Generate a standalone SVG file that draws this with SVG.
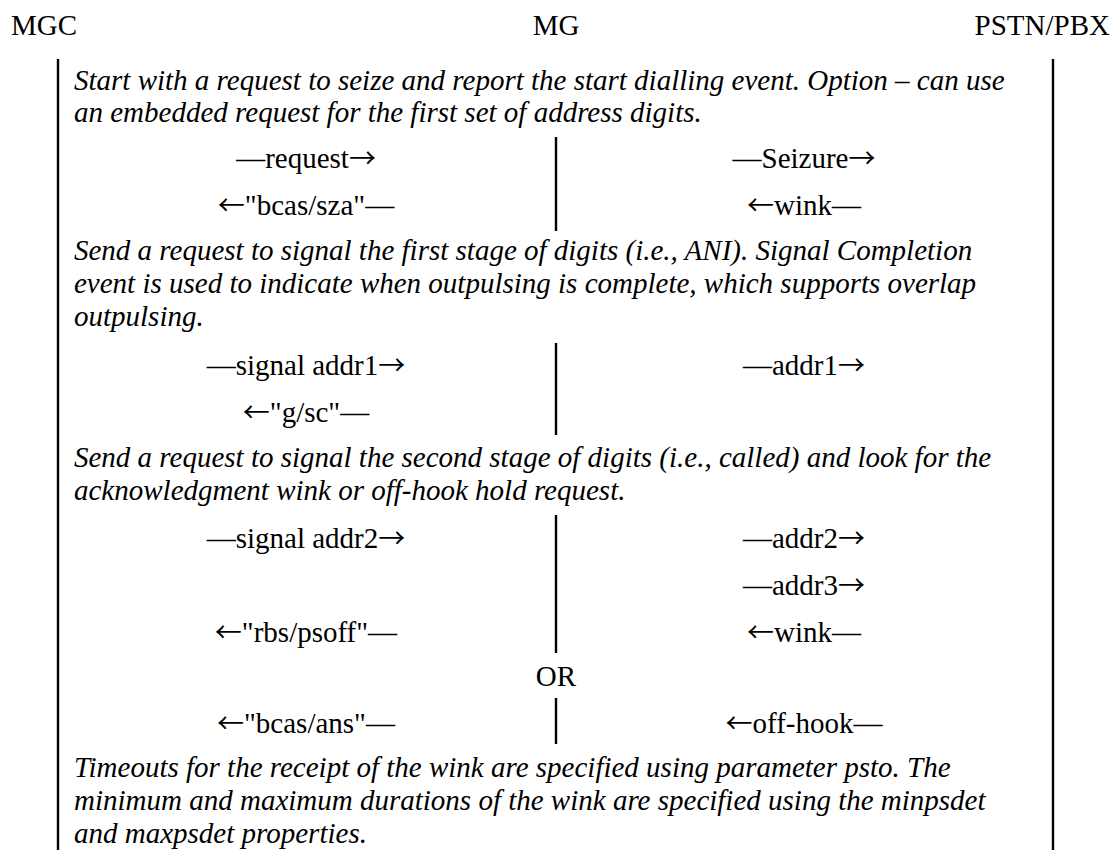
<svg xmlns="http://www.w3.org/2000/svg" width="1118" height="850" viewBox="0 0 1118 850">
<style>
text{font-family:"Liberation Serif","Times New Roman",serif;font-size:29px;fill:#000}
.note{font-style:italic}
.l{text-anchor:middle}
.a{font-family:"Noto Sans CJK JP","DejaVu Serif",sans-serif;font-size:27px}
.life{stroke:#000;stroke-width:2.4;fill:none}
</style>
<rect width="1118" height="850" fill="#fff"/>
<g id="connectors">
<line class="life" x1="58" y1="59" x2="58" y2="850"/>
<line class="life" x1="1053" y1="59" x2="1053" y2="850"/>
<line class="life" x1="556" y1="137" x2="556" y2="231"/>
<line class="life" x1="556" y1="343" x2="556" y2="435"/>
<line class="life" x1="556" y1="515" x2="556" y2="653"/>
<line class="life" x1="556" y1="698" x2="556" y2="744"/>
</g>
<g id="mgc"><text x="11" y="35">MGC</text></g>
<g id="mg"><text x="556" y="35" class="l">MG</text></g>
<g id="pstn"><text x="1110" y="35" text-anchor="end">PSTN/PBX</text></g>
<g id="note1">
<text class="note" x="74" y="90">Start with a request to seize and report the start dialling event. Option – can use</text>
<text class="note" x="74" y="122">an embedded request for the first set of address digits.</text>
</g>
<g id="msgs1">
<text class="l" x="306" y="168">—request<tspan class="a">→</tspan></text>
<text class="l" x="306" y="215"><tspan class="a">←</tspan>"bcas/sza"—</text>
<text class="l" x="804" y="168">—Seizure<tspan class="a">→</tspan></text>
<text class="l" x="804" y="215"><tspan class="a">←</tspan>wink—</text>
</g>
<g id="note2">
<text class="note" x="74" y="260">Send a request to signal the first stage of digits (i.e., ANI). Signal Completion</text>
<text class="note" x="74" y="293">event is used to indicate when outpulsing is complete, which supports overlap</text>
<text class="note" x="74" y="326">outpulsing.</text>
</g>
<g id="msgs2">
<text class="l" x="306" y="375">—signal addr1<tspan class="a">→</tspan></text>
<text class="l" x="306" y="422"><tspan class="a">←</tspan>"g/sc"—</text>
<text class="l" x="804" y="375">—addr1<tspan class="a">→</tspan></text>
</g>
<g id="note3">
<text class="note" x="74" y="467">Send a request to signal the second stage of digits (i.e., called) and look for the</text>
<text class="note" x="74" y="500">acknowledgment wink or off-hook hold request.</text>
</g>
<g id="msgs3">
<text class="l" x="306" y="548">—signal addr2<tspan class="a">→</tspan></text>
<text class="l" x="804" y="548">—addr2<tspan class="a">→</tspan></text>
<text class="l" x="804" y="595">—addr3<tspan class="a">→</tspan></text>
<text class="l" x="306" y="642"><tspan class="a">←</tspan>"rbs/psoff"—</text>
<text class="l" x="804" y="642"><tspan class="a">←</tspan>wink—</text>
<text class="l" x="556" y="686">OR</text>
<text class="l" x="306" y="733"><tspan class="a">←</tspan>"bcas/ans"—</text>
<text class="l" x="804" y="733"><tspan class="a">←</tspan>off-hook—</text>
</g>
<g id="note4">
<text class="note" x="74" y="777">Timeouts for the receipt of the wink are specified using parameter psto. The</text>
<text class="note" x="74" y="810">minimum and maximum durations of the wink are specified using the minpsdet</text>
<text class="note" x="74" y="843">and maxpsdet properties.</text>
</g>
</svg>
